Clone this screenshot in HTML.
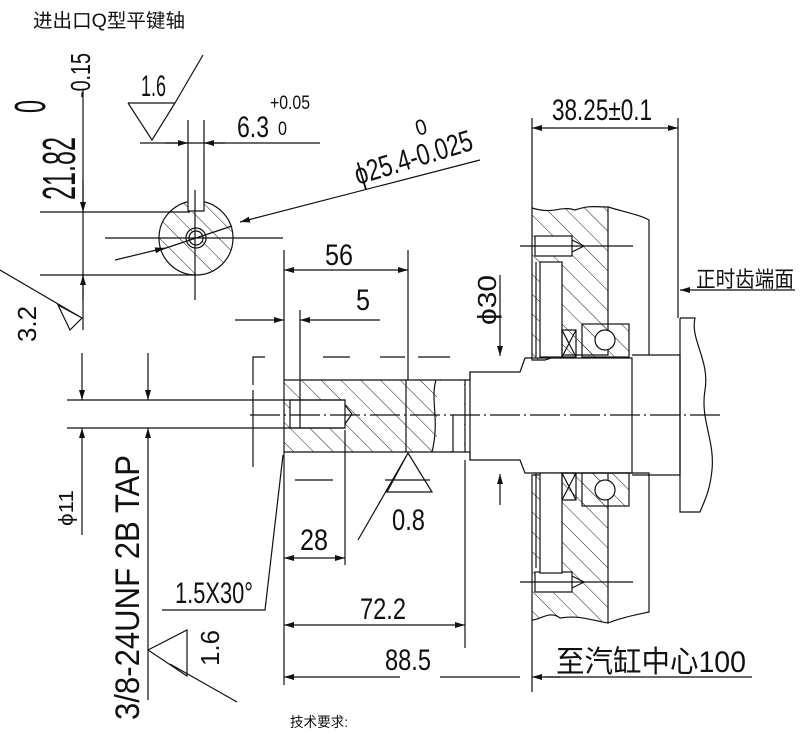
<!DOCTYPE html>
<html><head><meta charset="utf-8"><style>
html,body{margin:0;padding:0;background:#fff;}
svg{display:block;}
text{font-family:"Liberation Sans","Noto Sans CJK SC",sans-serif;fill:#111;}
</style></head><body>
<svg width="800" height="745" viewBox="0 0 800 745" xmlns="http://www.w3.org/2000/svg">
<defs>
<pattern id="h" width="14" height="14" patternUnits="userSpaceOnUse" patternTransform="rotate(-45)">
<line x1="0" y1="0" x2="0" y2="14" stroke="#222" stroke-width="1"/>
</pattern>
<marker id="a" viewBox="0 0 10 6" refX="10" refY="3" markerWidth="10" markerHeight="6" markerUnits="userSpaceOnUse" orient="auto-start-reverse"><path d="M0,0L10,3L0,6z" fill="#111"/></marker>
</defs>
<g stroke="#111" stroke-width="1.2" fill="none">
<circle cx="196" cy="238" r="37" fill="url(#h)"/>
<rect x="188" y="200" width="16" height="12" fill="#fff" stroke="none"/>
<circle cx="196" cy="238" r="7" fill="#fff"/>
<circle cx="196" cy="238" r="10"/>
<path d="M188,120V211H204V120"/>
<line x1="195" y1="190" x2="195" y2="300"/>
<line x1="105" y1="238" x2="283" y2="238"/>
<line x1="40" y1="212" x2="190" y2="212"/>
<line x1="40" y1="275" x2="196" y2="275"/>
<line x1="83" y1="90" x2="83" y2="330"/>
<line x1="83" y1="180" x2="83" y2="212" marker-end="url(#a)"/>
<line x1="83" y1="300" x2="83" y2="275" marker-end="url(#a)"/>
<line x1="140" y1="143" x2="320" y2="143"/>
<line x1="165" y1="143" x2="188" y2="143" marker-end="url(#a)"/>
<line x1="225" y1="143" x2="204" y2="143" marker-end="url(#a)"/>
<path d="M128,103H175L152,140L128,103M175,103L203,55"/>
<line x1="115" y1="260" x2="165" y2="248" marker-end="url(#a)"/>
<line x1="160" y1="250" x2="232" y2="226"/>
<line x1="480" y1="160" x2="240" y2="222" marker-end="url(#a)"/>
<path d="M0,270L82,318M58,305L82,318L70,330L58,305Z" />
<path d="M284,380H465V452H284Z"/>
<rect x="284" y="380" width="181" height="72" fill="url(#h)" stroke="none"/>
<rect x="290" y="400" width="55" height="28" fill="#fff"/>
<path d="M345,405L352,414L345,424"/>
<line x1="300" y1="400" x2="300" y2="428"/>
<line x1="406" y1="380" x2="406" y2="452"/>
<path d="M436,380C430,400 440,420 432,452"/>
<rect x="437" y="381" width="27" height="70" fill="#fff" stroke="none"/>
<line x1="453" y1="415" x2="453" y2="452"/>
<path d="M465,380H470V372H520L525,358H632V473H525L520,460H470V452H465"/>
<line x1="470" y1="372" x2="470" y2="460"/>
<path d="M632,355H680V475H632"/>
<path d="M680,318H695C690,340 710,360 705,390C700,420 715,440 712,470C710,490 705,500 700,512H680V318"/>
<line x1="67" y1="400" x2="345" y2="400"/>
<line x1="67" y1="428" x2="345" y2="428"/>
<line x1="250" y1="415" x2="720" y2="415" stroke-dasharray="30,4,2,4"/>
<path d="M253,385V357H265M323,357H350M380,357H405M418,357H450" />
<line x1="253" y1="390" x2="253" y2="467"/>
<line x1="295" y1="480" x2="333" y2="480"/>
<line x1="385" y1="480" x2="430" y2="480"/>
<path d="M532,208C555,215 560,205 575,210C590,205 595,207 608,207V355H560L545,360H532Z" fill="url(#h)"/>
<path d="M532,475H545L560,473H608V623C590,620 580,615 560,618C550,610 540,620 532,620Z" fill="url(#h)"/>
<path d="M608,207C625,212 640,215 649,220V355"/>
<path d="M608,473H649V612C635,615 620,618 608,623"/>
<rect x="535" y="236" width="37" height="20" fill="#fff"/>
<path d="M572,240L584,246L572,252"/>
<rect x="535" y="572" width="37" height="20" fill="#fff"/>
<path d="M572,576L584,582L572,588"/>
<line x1="520" y1="246" x2="633" y2="246"/>
<line x1="520" y1="582" x2="633" y2="582"/>
<rect x="540" y="262" width="22" height="95" fill="#fff"/>
<rect x="540" y="473" width="22" height="100" fill="#fff"/>
<line x1="536" y1="262" x2="536" y2="357"/>
<line x1="536" y1="473" x2="536" y2="568"/>
<rect x="582" y="324" width="47" height="33" fill="url(#h)"/>
<circle cx="605" cy="340" r="10" fill="#fff"/>
<rect x="582" y="473" width="47" height="33" fill="url(#h)"/>
<circle cx="605" cy="490" r="10" fill="#fff"/>
<path d="M562,330H576V357H562ZM562,330L576,357M576,330L562,357"/>
<path d="M562,473H576V500H562ZM562,473L576,500M576,473L562,500"/>
<line x1="532" y1="118" x2="532" y2="208"/>
<line x1="678" y1="118" x2="678" y2="318"/>
<line x1="560" y1="128" x2="532" y2="128" marker-end="url(#a)"/>
<line x1="560" y1="128" x2="678" y2="128" marker-end="url(#a)"/>
<line x1="795" y1="290" x2="680" y2="290" marker-end="url(#a)"/>
<line x1="500" y1="275" x2="500" y2="356" marker-end="url(#a)"/>
<line x1="500" y1="505" x2="500" y2="474" marker-end="url(#a)"/>
<line x1="284" y1="250" x2="284" y2="380"/>
<line x1="408" y1="250" x2="408" y2="380"/>
<line x1="300" y1="310" x2="300" y2="400"/>
<line x1="346" y1="270" x2="284" y2="270" marker-end="url(#a)"/>
<line x1="346" y1="270" x2="408" y2="270" marker-end="url(#a)"/>
<line x1="235" y1="320" x2="284" y2="320" marker-end="url(#a)"/>
<line x1="380" y1="320" x2="300" y2="320" marker-end="url(#a)"/>
<line x1="284" y1="452" x2="284" y2="685"/>
<line x1="345" y1="430" x2="345" y2="565"/>
<line x1="465" y1="460" x2="465" y2="648"/>
<line x1="532" y1="620" x2="532" y2="692"/>
<line x1="314" y1="558" x2="284" y2="558" marker-end="url(#a)"/>
<line x1="314" y1="558" x2="345" y2="558" marker-end="url(#a)"/>
<line x1="375" y1="625" x2="284" y2="625" marker-end="url(#a)"/>
<line x1="375" y1="625" x2="465" y2="625" marker-end="url(#a)"/>
<line x1="400" y1="677" x2="284" y2="677" marker-end="url(#a)"/>
<line x1="440" y1="677" x2="520" y2="677"/>
<line x1="560" y1="677" x2="532" y2="677" marker-end="url(#a)"/>
<line x1="545" y1="677" x2="752" y2="677"/>
<path d="M283,455L265,610H162"/>
<path d="M408,453L387,492H432ZM408,453L358,540"/>
<line x1="82" y1="353" x2="82" y2="400" marker-end="url(#a)"/>
<line x1="82" y1="535" x2="82" y2="428" marker-end="url(#a)"/>
<line x1="148" y1="353" x2="148" y2="400" marker-end="url(#a)"/>
<line x1="148" y1="700" x2="148" y2="428" marker-end="url(#a)"/>
<path d="M148,650L187,630V676ZM170,664L237,702"/>
</g>
<g font-size="30">
<text x="33" y="27" font-size="19" textLength="152" lengthAdjust="spacingAndGlyphs">进出口Q型平键轴</text>
<text x="141" y="96" textLength="25" lengthAdjust="spacingAndGlyphs">1.6</text>
<text x="237" y="137" textLength="32" lengthAdjust="spacingAndGlyphs">6.3</text>
<text x="270" y="109" font-size="19" textLength="40" lengthAdjust="spacingAndGlyphs">+0.05</text>
<text x="278" y="135" font-size="19" textLength="9" lengthAdjust="spacingAndGlyphs">0</text>
<text x="0" y="0" transform="translate(358,185) rotate(-17)" textLength="122" lengthAdjust="spacingAndGlyphs">ϕ25.4-0.025</text>
<text x="0" y="0" transform="translate(418,136) rotate(-17)" font-size="22" textLength="11" lengthAdjust="spacingAndGlyphs">0</text>
<text x="0" y="0" transform="translate(75,200) rotate(-90)" font-size="46" textLength="63" lengthAdjust="spacingAndGlyphs">21.82</text>
<text x="0" y="0" transform="translate(90,98) rotate(-90)" font-size="28" textLength="45" lengthAdjust="spacingAndGlyphs">-0.15</text>
<text x="0" y="0" transform="translate(45,113) rotate(-90)" font-size="44" textLength="13" lengthAdjust="spacingAndGlyphs">0</text>
<text x="0" y="0" transform="translate(36,342) rotate(-90)" font-size="26" textLength="36" lengthAdjust="spacingAndGlyphs">3.2</text>
<text x="325" y="265" textLength="28" lengthAdjust="spacingAndGlyphs">56</text>
<text x="356" y="310" textLength="14" lengthAdjust="spacingAndGlyphs">5</text>
<text x="552" y="120" textLength="100" lengthAdjust="spacingAndGlyphs">38.25±0.1</text>
<text x="696" y="287" font-size="22" textLength="98" lengthAdjust="spacingAndGlyphs">正时齿端面</text>
<text x="0" y="0" transform="translate(496,325) rotate(-90)" font-size="26" textLength="50" lengthAdjust="spacingAndGlyphs">ϕ30</text>
<text x="392" y="530" textLength="33" lengthAdjust="spacingAndGlyphs">0.8</text>
<text x="300" y="550" textLength="28" lengthAdjust="spacingAndGlyphs">28</text>
<text x="175" y="603" textLength="78" lengthAdjust="spacingAndGlyphs">1.5X30°</text>
<text x="360" y="619" textLength="46" lengthAdjust="spacingAndGlyphs">72.2</text>
<text x="385" y="670" textLength="46" lengthAdjust="spacingAndGlyphs">88.5</text>
<text x="556" y="672" textLength="190" lengthAdjust="spacingAndGlyphs">至汽缸中心100</text>
<text x="0" y="0" transform="translate(73,526) rotate(-90)" font-size="20" textLength="36" lengthAdjust="spacingAndGlyphs">ϕ11</text>
<text x="0" y="0" transform="translate(139,720) rotate(-90)" font-size="34" textLength="265" lengthAdjust="spacingAndGlyphs">3/8-24UNF 2B TAP</text>
<text x="0" y="0" transform="translate(219,666) rotate(-90)" font-size="26" textLength="36" lengthAdjust="spacingAndGlyphs">1.6</text>
<text x="290" y="727" font-size="14" textLength="58" lengthAdjust="spacingAndGlyphs">技术要求:</text>
</g>
</svg>
</body></html>
